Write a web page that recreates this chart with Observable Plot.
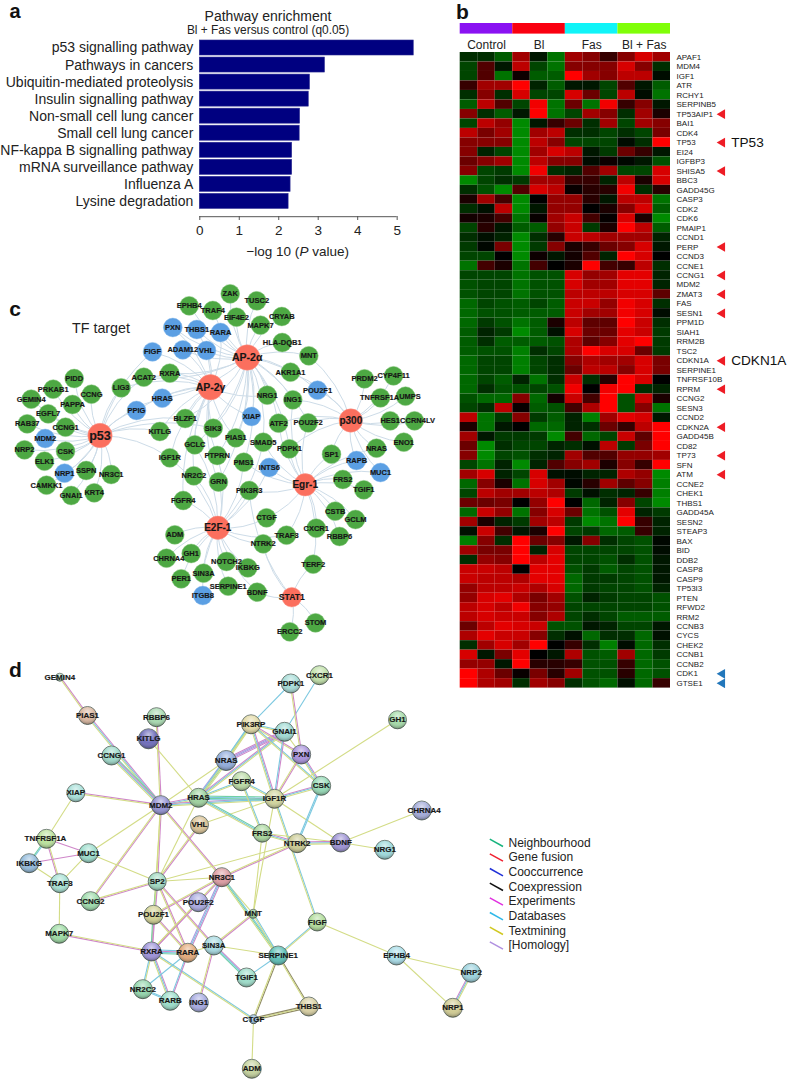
<!DOCTYPE html>
<html><head><meta charset="utf-8">
<script src="https://cdn.jsdelivr.net/npm/d3@7"></script>
<script src="https://cdn.jsdelivr.net/npm/@observablehq/plot@0.6"></script>
<style>
html,body{margin:0;padding:0;background:#fff}
#page{position:relative;width:788px;height:1080px;overflow:hidden;font-family:"Liberation Sans",Arial,sans-serif;color:#222}
#page svg{position:absolute;background:transparent;font-family:"Liberation Sans",Arial,sans-serif}
.t{position:absolute;white-space:nowrap;transform:translate(-50%,-50%);line-height:1}
</style></head><body><div id="page"></div>
<script>
// ---------- panel a ----------
const pathways=["p53 signalling pathway","Pathways in cancers","Ubiquitin-mediated proteolysis","Insulin signalling pathway","Non-small cell lung cancer","Small cell lung cancer","NF-kappa B signalling pathway","mRNA surveillance pathway","Influenza A","Lysine degradation"];
const pathwayLogP=[5.42,3.17,2.79,2.76,2.54,2.53,2.34,2.34,2.30,2.25];
// ---------- panel b ----------
const genes=["APAF1","MDM4","IGF1","ATR","RCHY1","SERPINB5","TP53AIP1","BAI1","CDK4","TP53","EI24","IGFBP3","SHISA5","BBC3","GADD45G","CASP3","CDK2","CDK6","PMAIP1","CCND1","PERP","CCND3","CCNE1","CCNG1","MDM2","ZMAT3","FAS","SESN1","PPM1D","SIAH1","RRM2B","TSC2","CDKN1A","SERPINE1","TNFRSF10B","RPRM","CCNG2","SESN3","CCND2","CDKN2A","GADD45B","CD82","TP73","SFN","ATM","CCNE2","CHEK1","THBS1","GADD45A","SESN2","STEAP3","BAX","BID","DDB2","CASP8","CASP9","TP53I3","PTEN","RFWD2","RRM2","CCNB3","CYCS","CHEK2","CCNB1","CCNB2","CDK1","GTSE1"];
const samples=[1,2,3,4,5,6,7,8,9,10,11,12];
const groups=["Control","Bl","Fas","Bl + Fas"];
const groupColors=["#8a12f2","#fa0010","#10f4f8","#80ff08"];
const heat=[
[-2,-2,-4,6,-1,-5,6,5,2,5,8,6],
[-3,3,-1,7,-3,-5,5,5,5,8,5,-2],
[-3,3,-5,.5,-4,-4,10,6,5,7,7,-.5],
[2,6,6,10,-1.5,-4,-1,-1,-3,3,-1,-4],
[-2,5,-2,8,-3,-3,8,4,-3,7,-.5,-5],
[-4,7,3,-3,9,-5,4,-5,9,2,5,-1],
[5,-2,-4,-1,10,-5,-3,6,5,-2,6,1],
[-3,7,5.5,-6,-1,2,4,-2,6,-3,6,5],
[7,4.5,6,-6,6,7,-2,-2,-3,-2,-3,4.5],
[5,5,5,-6,7,5,-3,-3,-3,-.5,-2,10],
[5,-1.5,-3,-6,6,8,7,-1,-2.5,4,2,-1],
[4,5,6,-6,7,5,5,-.5,.5,-.3,-1,-3.5],
[5,-3,-2.5,-6,9,-2,-1.5,3,6,-3,-3,8],
[-7,-3,-2,-2.5,6,6,2,2,-1.5,7,1,8],
[-2,-3.5,-6,3,8,7,.3,1.5,1.5,9,-2,1.5],
[1,6,2.5,-6,0,5.5,5.5,1.5,-1,7,7,-5],
[-2,-.7,7,-6,-1,5.5,5.5,0,1,5,8,-4],
[.7,1,2.5,-5,.3,6,7.5,2.5,.2,8,1,-6],
[-3,1.5,-1,-4,-4,5.5,7.5,-2.5,1,10,7,-4],
[-2,-.7,-1.5,-7,-2,1.5,7.5,7,6,6,6,-1.5],
[-2.5,-.3,4.5,-6,-2.5,5,1,2,4,5,8,-1],
[-3,-3,0,-6,.5,-1,.7,3,-1.5,10,8,0],
[-5,2.5,1,-5,2.5,0,1,10,2.5,2,7,-2],
[-3,-3,-3,-5,-3.5,-3.5,8,5.5,6,8.5,8.5,-1.5],
[-3.5,-3,-3,-5,-3.5,-3.5,8,6,6,8.5,8.5,-1.5],
[-3.5,-3,-3,-5,-3.5,-3.5,7,7,7,8,8,3.5],
[-4.5,-3,-3.5,-4,-3,-4,7.5,7.5,5.5,9,8,-2],
[-4.5,-3.5,-3.5,-4,-4,-4,7.5,6,6,9,8,-.5],
[-4.5,-2.5,-3.5,-5,-4,1,7,3.5,3.5,10,7.5,-2],
[-4,-1.5,-2.5,-6,-4,-.7,8,4,4,8.5,7.5,-2.5],
[-4,-2,-4,-4,-4,-3.5,6.5,3.5,5,8.5,10,-2.5],
[-4,-3.5,-3.5,-5.5,-2,-3,6.5,9.5,8,8,4,-2.5],
[-4.5,-3,-3,-5.5,-3,-2,5,6.5,6,6,8,4.5],
[-4.5,-3,-3,-5.5,-3,-2,4,7,7,5,8,4.5],
[-4.5,-3,-4,-1.5,-5,-2,7.5,-2,1.5,10,8,0],
[-4.5,-2,-3.5,-3.5,-3,-3.5,9,0,9,10,-2,-1.5],
[-3.5,-4.5,-4.5,5,-4.5,.7,7.5,2.5,10,-3.5,7.5,1],
[-3,-2,7,.3,-4,-3.5,2.5,6.5,10,-3.5,5,-5],
[7,-5,-2.5,5,-2.5,-4,-1.5,-5.5,6,8.5,8,-1],
[1,-5,-1,0,-4.5,-4.5,-1.5,-2,4,2,7,10],
[6,-1,-2.5,-2.5,-2.5,-6,2.5,-4.5,-3,7.5,3.5,10],
[4,-6,-2,-3,-3,-1.5,-2,-.7,7,-2.5,4.5,10],
[5,-7,-3,-3.5,-2,-1.5,6,3,3,5.5,5.5,6],
[-3,-5,-1.5,-6,-1.5,3,5,6,1,5,2,10],
[6,8,-1.5,-3,8,-.7,-.5,-1.5,-1.5,6.5,5.5,-6],
[-4.5,5,1,-5,8,6,-.3,1.5,6,3.5,5,-5.5],
[-3,7,6,6,7,6.5,-2.5,-.7,-2,-1.5,2,-5.5],
[4,4,4.5,0,5.5,10,0,-4.5,-1.5,5,-3,-6],
[-4.5,7.5,5.5,-5,5,8,4,-5,-3.5,8.5,-1.5,-2.5],
[6,1,-1.5,-2.5,6,7,-2.5,-6,-5,10,2,-1.5],
[-.7,7.5,2.5,-1,1,10,-3,-2.5,-4.5,-4,2,-1.5],
[-5.5,5,-2,10,4,5,-1,5,-2,-3,-3.5,-.3],
[6,4.5,4.5,10,-1.5,8,-3,-3,-3,-3,-3.5,-.5],
[-2,5.5,5,9.5,7,8.5,-3,-3,-3.5,-2,-3.5,-1],
[7.5,7.5,7,0,8.5,8.5,-3.5,-2.5,-4,-3,-3.5,-1],
[7.5,7,7,6.5,8.5,8.5,-4.5,-2.5,-2.5,-3,-3.5,-1],
[5.5,7,7,7.5,6.5,8,-4.5,-2.5,-3,-3,-3.5,-1.5],
[5.5,8,8.5,6.5,4.5,6,-3.5,-1.5,-2.5,-3,-3,-3.5],
[7,8,7,9,5,5.5,-3,-3,-3,-3,-3,-3.5],
[7,8,7.5,7.5,5,6.5,-3,-2,-3,-4,-4,-4],
[4,7,8.5,8,7.5,-3.5,-3.5,-1,-1.5,-3,-3,-1],
[6.5,8.5,7.5,7.5,5,-2,-.7,-4.5,-2,-2,-4.5,-.7],
[-2,6,8,6,9.5,0,2,-2,-5.5,-.5,-4.5,-2],
[8,-1,4.5,8.5,0,-1,6.5,-3.5,-4,6,-4.5,-2.5],
[5.5,5.5,-1,10,1.5,1.5,2,-3.5,-3.5,2,-4.5,-3.5],
[10,6.5,4,.3,4.5,1.5,6,-3.5,-3.5,1.5,-4.5,-3.5],
[10,6.5,6,-2,6,5,-2,-3.5,-4.5,-.7,-4.5,2]
];
const upMarked=["TP53AIP1","TP53","SHISA5","PERP","CCNG1","ZMAT3","SESN1","CDKN1A","RPRM","CDKN2A","TP73","ATM"];
const downMarked=["CDK1","GTSE1"];
const calledOut=["TP53","CDKN1A"];
// ---------- panel c ----------
const tfNodes=[["p53",99.5,435,12.2,12.5],["AP-2γ",210,386.7,12.7,10.5],["AP-2α",246.7,357,12.7,10.5],["p300",350.3,420,11.7,10],["Egr-1",304.7,484.3,11.2,10],["E2F-1",217.3,527.3,11.7,10],["STAT1",291.3,596.7,9.8,8.6]];
const blueNodes=[["MDM2",44.7,438],["NRP1",64,472.7],["FIGF",152,351.3],["PXN",172.3,327],["THBS1",196.3,329],["RARA",220,332],["ADAM12",182.3,349.3],["VHL",206,350],["HRAS",161.7,397.7],["PPIG",136,410],["POU2F1",317,389.7],["XIAP",251,416],["INTS6",268.7,467],["RAPB",356,460],["MUC1",380,472],["ITGB8",202.3,595]];
const greenNodes=[["PIDD",73.7,378],["PRKAB1",52.7,388.7],["CCNG",91,393.7],["GEMIN4",30.7,398.7],["PAPPA",72,404],["EGFL7",47.7,413.3],["RAB37",26.7,423.3],["CCNG1",65,426.7],["NRP2",24,449.3],["CSK",65,450.7],["ELK1",44,460.7],["SSPN",85.7,470],["NR3C1",110.7,474],["CAMKK1",46,484.7],["GNAI1",70.7,495],["KRT4",93.7,492.3],["LIG3",120.7,387.3],["ACAT2",143.3,376.7],["RXRA",169.3,372.7],["EPHB4",188.7,305.3],["TRAF4",212.3,310],["BLZF1",184.7,418],["SIK3",212.7,427.7],["KITLG",159.3,431],["GCLC",194.3,444.3],["PTPRN",216.7,455],["IGF1R",169.3,457.3],["NR2C2",193.3,475.3],["GRN",218,481.5],["FGFR4",182.7,500],["ZAK",229.7,293.3],["TUSC2",256.3,300.3],["EIF4E2",236,316.7],["CRYAB",281.3,316],["MAPK7",260,324.7],["HLA-DQB1",281.7,342],["MNT",308.3,355.3],["AKR1A1",290,371.7],["NRG1",266.7,394.7],["ING1",292.3,399.3],["ATF2",278,422.7],["POU2F2",307.7,422.3],["PRDM2",364,378.3],["CYP4F11",393,375.3],["TNFRSF1A",380,397.3],["UMPS",405,395.7],["HES1",389.7,420.3],["CCRN4LV",414,420.3],["ENO1",403.3,441.7],["PIAS1",235.3,437.3],["SMAD5",262.7,441.7],["PDPK1",289,448.3],["NRAS",376,447.7],["SP1",331,453.7],["PMS1",243.3,461.7],["FRS2",342.3,479],["TGIF1",363.3,489.3],["PIK3R3",248.7,490],["CSTB",334.7,510.7],["GCLM",355,519],["CTGF",266,517.3],["CXCR1",315.7,527.7],["RBBP6",339,536],["TRAF3",286,534.7],["ADM",174.3,534.3],["NTRK2",262.7,543.3],["GH1",190.7,553],["CHRNA4",166,557.7],["NOTCH2",226,561],["IKBKG",247.3,567.3],["SIN3A",203,572.7],["TERF2",312.7,563.7],["PER1",180.7,578.3],["SERPINE1",227.7,585.7],["BDNF",256.7,591.7],["STOM",315,622.3],["ERCC2",289.3,631.3]];
const labelShift={UMPS:4.5,CCRN4LV:3,CHRNA4:2.3,TNFRSF1A:-1};
const targetsP53=["PIDD","PRKAB1","CCNG","GEMIN4","PAPPA","EGFL7","RAB37","CCNG1","MDM2","NRP2","CSK","ELK1","NRP1","SSPN","NR3C1","CAMKK1","GNAI1","KRT4","LIG3","ACAT2","FIGF","PPIG","HRAS","KITLG","BLZF1","IGF1R","SIK3"];
const targetsAP2g=["FIGF","PXN","THBS1","RARA","ADAM12","VHL","ACAT2","RXRA","HRAS","PPIG","BLZF1","KITLG","SIK3","GCLC","PTPRN","IGF1R","NR2C2","GRN","FGFR4","LIG3","PIAS1","XIAP","NRG1"];
const targetsAP2a=["EPHB4","TRAF4","ZAK","TUSC2","EIF4E2","CRYAB","MAPK7","HLA-DQB1","MNT","AKR1A1","POU2F1","NRG1","ING1","XIAP","ATF2","POU2F2","PIAS1","SMAD5","PDPK1","PMS1","SIK3","PTPRN","GCLC","RARA","VHL","THBS1","ADAM12","PXN","RXRA","ACAT2","HRAS","BLZF1","GRN"];
const targetsP300=["PRDM2","CYP4F11","TNFRSF1A","UMPS","HES1","CCRN4LV","ENO1","NRAS","SP1","RAPB","MUC1","POU2F1","POU2F2","AKR1A1","ING1","MNT","ATF2","PDPK1"];
const targetsEgr1=["SP1","RAPB","FRS2","TGIF1","MUC1","CSTB","GCLM","CXCR1","RBBP6","TERF2","TRAF3","CTGF","PIK3R3","PDPK1","INTS6","SMAD5","PMS1","ATF2","ING1","POU2F2","NRAS"];
const targetsE2F1=["FGFR4","GRN","NR2C2","IGF1R","ADM","GH1","CHRNA4","NOTCH2","SIN3A","PER1","IKBKG","SERPINE1","ITGB8","BDNF","CTGF","NTRK2","TRAF3","PIK3R3","GCLC","PTPRN","PMS1","SMAD5","INTS6"];
const targetsSTAT1=["TERF2","STOM","ERCC2","BDNF","PIK3R3","NTRK2"];
// ---------- panel d ----------
const stringNodes=[["GEMIN4",59.3,676.7,4,"#b6dfc6"],["PIAS1",87,715,9,"#d8b49c"],["RBBP6",156,716.7,9.5,"#a6d9ae"],["KITLG",148,738.3,10,"#6b69ba"],["CCNG1",111,755,9.5,"#9cd9c9"],["XIAP",75.3,792.3,9,"#a6dfd8"],["MDM2",160.3,804.7,9.5,"#908fd2"],["NRAS",225.7,760,10,"#8eaada"],["FGFR4",241,780.7,9.5,"#b8d9a2"],["HRAS",198,797.3,9.5,"#9bd09c"],["VHL",199,824.3,9,"#d9c193"],["PIK3RP",250.5,723.8,9.5,"#e2d9a4"],["TNFRSF1A",46,838.3,9.5,"#b9e29a"],["MUC1",88,852.7,9.5,"#9adccb"],["IKBKG",28.7,862.7,9.5,"#90b9da"],["PDPK1",290.3,683,9.5,"#a4dbd6"],["CXCR1",319,674.7,9.5,"#bfe0a6"],["GNAI1",284,731.3,9.5,"#9cd9d2"],["PXN",300.7,754,9.5,"#a68fdb"],["GH1",397,719.3,9,"#a2d9a6"],["CSK",320.7,785.3,9.5,"#92d9b4"],["IGF1R",274,798.3,9.5,"#cfd39a"],["FRS2",261.7,832.7,9,"#a7d69a"],["NTRK2",296.7,842.7,9.5,"#c9c990"],["BDNF",340.3,842,9.5,"#9a8fd3"],["CHRNA4",421.3,810,9.5,"#a0a8d8"],["NRG1",384.3,849.3,9.5,"#9bd8da"],["TRAF3",59.3,882.7,9.5,"#a4e0d2"],["CCNG2",90,900.7,9.5,"#9ad9a8"],["SP2",156.7,881,9,"#9ed8c0"],["NR3C1",221.3,876.7,9.5,"#dc9aa0"],["POU2F2",197.7,901.7,9.5,"#a8a8e0"],["POU2F1",153,914.3,9.5,"#d0d090"],["MNT",252.7,913.3,4.5,"#8fc98f"],["MAPK7",58.7,933.3,9.5,"#9ad9a0"],["RXRA",151,951,9.5,"#9a8fd8"],["RARA",187.3,952.3,9.5,"#e2a878"],["SIN3A",213.3,945,9.5,"#a4d8e0"],["SERPINE1",277.7,955,9.5,"#58bdb4"],["FIGF",316.7,921.5,9,"#afdb98"],["TGIF1",246,977,9.5,"#9adcc8"],["NR2C2",142.3,988.7,9.5,"#90d5aa"],["RARB",169.7,1000.3,9.5,"#98dcc8"],["ING1",198.3,1002,9.5,"#a4a8e0"],["CTGF",253,1018.7,4.5,"#8fb8d8"],["THBS1",308.3,1006,9.5,"#d8cfa0"],["ADM",251.3,1068.3,9.5,"#c2d09a"],["EPHB4",396,955,9.5,"#a6dce8"],["NRP2",470.7,972.3,9.5,"#98d0dc"],["NRP1",452.3,1007.3,9.5,"#cfca90"]];
// evidence letters: n neighbourhood, e experiments, d databases, t textmining, c coexpression, h homology
const stringEdges=[["GEMIN4","PIAS1","et"],["PIAS1","MDM2","edt"],["CCNG1","MDM2","nedt"],["RBBP6","MDM2","et"],["KITLG","HRAS","t"],["XIAP","MDM2","et"],["XIAP","TNFRSF1A","t"],["MDM2","HRAS","edt"],["MDM2","NRAS","t"],["MDM2","IGF1R","edt"],["VHL","SP2","et"],["VHL","IGF1R","t"],["MDM2","SP2","et"],["MDM2","NR3C1","et"],["MDM2","CCNG2","et"],["MDM2","MUC1","t"],["MDM2","POU2F1","t"],["HRAS","SP2","t"],["HRAS","NRAS","hdnt"],["NRAS","GNAI1","ehhe"],["NRAS","PIK3RP","dnt"],["HRAS","PIK3RP","dt"],["HRAS","GNAI1","edt"],["HRAS","FGFR4","dt"],["HRAS","FRS2","ndt"],["HRAS","IGF1R","ndnd"],["FGFR4","FRS2","dt"],["FGFR4","IGF1R","dt"],["PIK3RP","PDPK1","d"],["PIK3RP","GNAI1","dt"],["PIK3RP","PXN","et"],["PIK3RP","IGF1R","edt"],["PIK3RP","CSK","dt"],["GNAI1","CXCR1","d"],["GNAI1","IGF1R","ed"],["GNAI1","PXN","t"],["PDPK1","PXN","et"],["PXN","CSK","edt"],["PXN","IGF1R","et"],["IGF1R","CSK","edt"],["IGF1R","GH1","t"],["IGF1R","BDNF","t"],["IGF1R","FIGF","dt"],["CSK","NTRK2","dd"],["FRS2","NTRK2","edt"],["FRS2","BDNF","t"],["FRS2","MNT","t"],["NTRK2","BDNF","edt"],["BDNF","NRG1","t"],["BDNF","CHRNA4","t"],["NTRK2","NR3C1","et"],["NTRK2","SP2","t"],["NR3C1","MNT","t"],["IGF1R","MNT","t"],["NR3C1","SP2","t"],["SP2","CCNG2","et"],["NR3C1","POU2F1","et"],["NR3C1","RXRA","et"],["NR3C1","RARA","edh"],["NR3C1","SERPINE1","dnt"],["MNT","SERPINE1","dt"],["MNT","SIN3A","et"],["SP2","POU2F1","dn"],["SP2","RXRA","et"],["SP2","RARA","et"],["SP2","SIN3A","et"],["POU2F1","RXRA","en"],["POU2F1","RARA","et"],["POU2F2","RXRA","et"],["RXRA","RARA","dedn"],["RXRA","NR2C2","td"],["RXRA","RARB","edt"],["RXRA","CTGF","dt"],["RXRA","MAPK7","et"],["RARA","SIN3A","t"],["RARA","NR2C2","d"],["RARA","RARB","ed"],["SIN3A","TGIF1","edn"],["SIN3A","ING1","et"],["SIN3A","SERPINE1","t"],["SERPINE1","TGIF1","d"],["SERPINE1","FIGF","dt"],["SERPINE1","CTGF","ct"],["SERPINE1","THBS1","ct"],["THBS1","CTGF","ctc"],["CTGF","ADM","t"],["NR2C2","RARB","dd"],["TRAF3","MAPK7","t"],["TRAF3","TNFRSF1A","et"],["TRAF3","IKBKG","t"],["TRAF3","MUC1","t"],["TNFRSF1A","IKBKG","dn"],["TNFRSF1A","MUC1","e"],["IKBKG","MUC1","e"],["MUC1","SP2","t"],["FIGF","EPHB4","t"],["EPHB4","NRP2","t"],["EPHB4","NRP1","t"],["NRP1","NRP2","edt"]];
const strandColors={n:"#72cfa6",e:"#cf86c9",d:"#7cc8e0",t:"#d3dc86",c:"#8f8a64",h:"#a99be0"};
const legendNames=["Neighbourhood","Gene fusion","Cooccurrence","Coexpression","Experiments","Databases","Textmining","[Homology]"];
const legendColors=["#16b37d","#f02030","#2030d8","#111111","#e030e0","#30b8e8","#d0c820","#b090e0"];

// ---------- helpers ----------
const page=document.getElementById("page");
function place(svg,left,top){svg.style.left=left+"px";svg.style.top=top+"px";page.appendChild(svg);return svg}
function label(html,x,y,size,extra){const d=document.createElement("div");d.className="t";d.innerHTML=html;d.style.left=x+"px";d.style.top=y+"px";d.style.fontSize=size+"px";if(extra)d.style.cssText+=extra;page.appendChild(d)}

// panel a
const tableA=pathways.map((p,i)=>({p,v:pathwayLogP[i]}));
place(Plot.plot({width:450,height:270,marginTop:0,marginBottom:54,marginLeft:199.3,marginRight:10,
 style:{background:"transparent"},
 x:{domain:[0,5.5],range:[199.3,416.4]},
 y:{domain:pathways,range:[40,208.4],padding:.12,paddingOuter:0,round:false},
 marks:[
  Plot.barX(tableA,{x:"v",y:"p",fill:"#000080",stroke:"#2a2a90",strokeWidth:.6}),
  Plot.ruleY([pathways[9]],{y:d=>d,x1:0,x2:5,dy:15.3,stroke:"#555",strokeWidth:1}),
  Plot.axisX({anchor:"bottom",ticks:[0,1,2,3,4,5],tickFormat:d=>d,tickSize:4,tickPadding:5,fontSize:13.5,stroke:"#555",color:"#222",label:null}),
  Plot.axisY({anchor:"left",tickSize:0,tickPadding:6.5,fontSize:14,color:"#222",label:null})
 ]}),0,0);
label("Pathway enrichment",268,15.7,14);
label("Bl + Fas versus control (q0.05)",268,30.5,11.9);
label("−log 10 (<i>P</i> value)",297.7,252,13.5);
label("a",15,11,20,"font-weight:bold;color:#111");
label("b",462.5,10.5,21,"font-weight:bold;color:#111");
label("c",15,308,21,"font-weight:bold;color:#111");
label("d",15.5,669,21,"font-weight:bold;color:#111");
label("TF target",101,328,14.3);

// panel b : group strip
place(Plot.plot({width:338,height:34,marginTop:0,marginBottom:0,marginLeft:0,marginRight:0,
 style:{background:"transparent"},
 x:{domain:groups,range:[9.7,220],padding:0,round:false,axis:null},
 y:{domain:[0],range:[0,10.6],padding:0,round:false,axis:null},
 color:{domain:groups,range:groupColors},
 marks:[
  Plot.cell(groups,{x:d=>d,y:()=>0,fill:d=>d}),
  Plot.text(groups,{x:d=>d,y:()=>0,text:d=>d,dy:16,fontSize:12,fill:"#222"})
 ]}),450,22.7);

// panel b : heatmap
const cells=heat.flatMap((row,r)=>row.map((v,c)=>({gene:genes[r],sample:samples[c],v})));
place(Plot.plot({width:338,height:636,marginTop:0,marginBottom:0,marginLeft:0,marginRight:118,
 style:{background:"transparent"},
 x:{domain:samples,range:[9.7,220],padding:0,round:false,axis:null},
 y:{domain:genes,range:[0,635.6],padding:0,round:false},
 color:{type:"linear",domain:[-6,0,9.5],range:["#008a00","#000000","#ff0000"],clamp:true},
 marks:[
  Plot.cell(cells,{x:"sample",y:"gene",fill:"v"}),
  Plot.axisY({anchor:"right",tickSize:0,tickPadding:6,fontSize:8,color:"#222",label:null}),
  Plot.dot(upMarked,{x:()=>12,y:d=>d,dx:60.5,symbol:"triangle",r:3.6,rotate:-90,fill:"#ee1c25",stroke:"none"}),
  Plot.dot(downMarked,{x:()=>12,y:d=>d,dx:60.5,symbol:"triangle",r:3.6,rotate:-90,fill:"#2277bb",stroke:"none"}),
  Plot.text(calledOut,{x:()=>12,y:d=>d,text:d=>d,dx:69.5,textAnchor:"start",fontSize:13.6,fill:"#111"})
 ]}),450,51.7);

// panel c
const cAll=[...tfNodes,...blueNodes,...greenNodes];
const cPos=new Map(cAll.map(n=>[n[0],n]));
const cEdges=[["p53",targetsP53,17],["AP-2γ",targetsAP2g,-17],["AP-2α",targetsAP2a,17],["p300",targetsP300,-17],["Egr-1",targetsEgr1,17],["E2F-1",targetsE2F1,-17],["STAT1",targetsSTAT1,17]]
 .flatMap(([tf,list,b])=>list.map(t=>({a:cPos.get(tf),b:cPos.get(t),bend:b})));
const cScale={x:{domain:[0,450],range:[0,450],axis:null},y:{domain:[280,650],range:[0,370],axis:null}};
const nodeLabel={x:d=>d[1]+(labelShift[d[0]]||0),y:d=>d[2],text:d=>d[0],fill:"#161616",stroke:"#161616",strokeWidth:.15};
const cEdgeMark=b=>Plot.arrow(cEdges.filter(e=>e.bend===b),{x1:e=>e.a[1],y1:e=>e.a[2],x2:e=>e.b[1],y2:e=>e.b[2],bend:b,headLength:0,stroke:"#cddce8",strokeWidth:1});
place(Plot.plot({width:450,height:370,margin:0,style:{background:"transparent"},...cScale,
 r:{type:"identity"},
 marks:[
  cEdgeMark(17),cEdgeMark(-17),
  Plot.dot(greenNodes,{x:d=>d[1],y:d=>d[2],r:9.4,fill:"#4da843",stroke:"#7cc372",strokeWidth:.5}),
  Plot.dot(blueNodes,{x:d=>d[1],y:d=>d[2],r:9.4,fill:"#5b9fe3",stroke:"#85b9ea",strokeWidth:.5}),
  Plot.dot(tfNodes,{x:d=>d[1],y:d=>d[2],r:d=>d[3],fill:"#fb6f5e",stroke:"#fb9488",strokeWidth:.5}),
  Plot.text(greenNodes,{...nodeLabel,fontSize:7.5,fontWeight:"bold"}),
  Plot.text(blueNodes,{...nodeLabel,fontSize:7.5,fontWeight:"bold"}),
  Plot.text(tfNodes,{...nodeLabel,fontSize:d=>d[4],fontWeight:"bold"})
 ]}),0,280);

// panel d
const dPos=new Map(stringNodes.map(n=>[n[0],n]));
const strands=stringEdges.flatMap(([s,t,kinds])=>{
 const a=dPos.get(s),b=dPos.get(t);
 const L=Math.hypot(b[1]-a[1],b[2]-a[2]),nx=-(b[2]-a[2])/L,ny=(b[1]-a[1])/L;
 return [...kinds].map((k,i)=>{const o=(i-(kinds.length-1)/2)*1.15;
  return {x1:a[1]+nx*o,y1:a[2]+ny*o,x2:b[1]+nx*o,y2:b[2]+ny*o,k}});
});
const gloss=()=>{const defs=d3.create("svg:defs");
 const g=defs.append("radialGradient").attr("id","gloss").attr("cx","50%").attr("cy","30%").attr("r","70%");
 g.append("stop").attr("offset","0%").attr("stop-color","#fff").attr("stop-opacity",.6);
 g.append("stop").attr("offset","55%").attr("stop-color","#fff").attr("stop-opacity",.03);
 g.append("stop").attr("offset","100%").attr("stop-color","#000").attr("stop-opacity",.36);
 return defs.node()};
place(Plot.plot({width:490,height:420,margin:0,style:{background:"transparent"},
 x:{domain:[0,490],range:[0,490],axis:null},y:{domain:[660,1080],range:[0,420],axis:null},
 color:{type:"identity"},
 r:{type:"identity"},
 marks:[
  gloss,
  Plot.link(strands,{x1:"x1",y1:"y1",x2:"x2",y2:"y2",stroke:d=>strandColors[d.k],strokeWidth:1.1}),
  Plot.dot(stringNodes,{x:d=>d[1],y:d=>d[2],r:d=>d[3],fill:d=>d[4],stroke:"#5f6c64",strokeWidth:.9}),
  Plot.dot(stringNodes,{x:d=>d[1],y:d=>d[2],r:d=>d[3],fill:"url(#gloss)"}),
  Plot.text(stringNodes,{...nodeLabel,fontSize:8,fontWeight:"bold"})
 ]}),0,660);

// panel d legend
const legendRows=legendNames.map((name,i)=>({name,i,c:legendColors[i]}));
place(Plot.plot({width:125,height:118,margin:0,style:{background:"transparent"},
 x:{domain:[0,1],range:[4.3,17.5],axis:null},y:{domain:[-.5,7.5],range:[0,117.3],axis:null},
 color:{type:"identity"},
 marks:[
  Plot.link(legendRows,{x1:()=>0,x2:()=>1,y1:d=>d.i-.25,y2:d=>d.i+.25,stroke:"c",strokeWidth:1.5}),
  Plot.text(legendRows,{x:()=>1,y:"i",text:"name",dx:5.5,textAnchor:"start",fontSize:12,fill:"#222"})
 ]}),485,834.7);
</script></body></html>
